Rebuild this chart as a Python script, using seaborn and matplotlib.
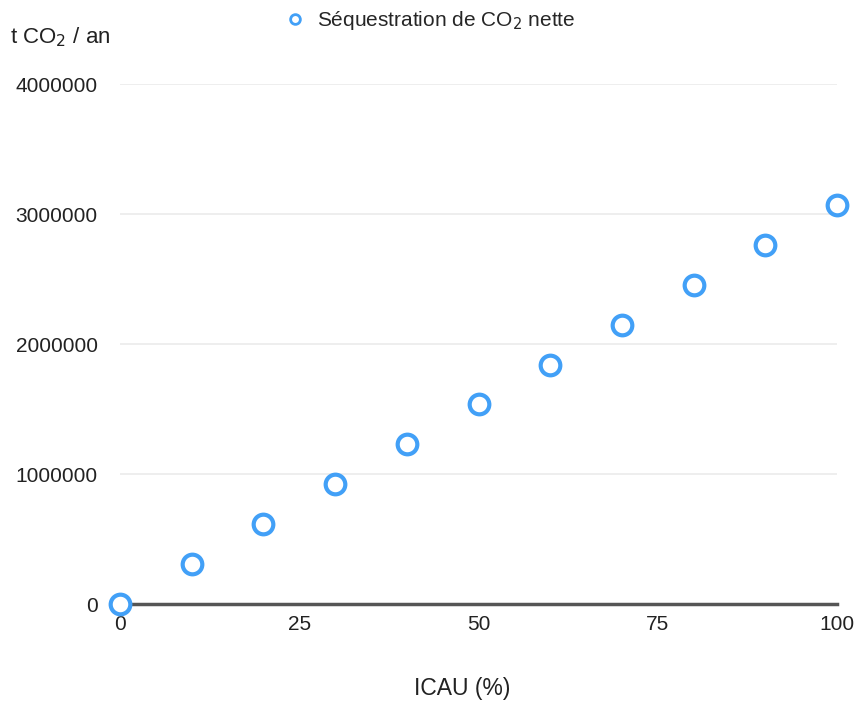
import matplotlib
matplotlib.use("Agg")
import matplotlib.pyplot as plt
import seaborn as sns
import pandas as pd

icau = [0, 10, 20, 30, 40, 50, 60, 70, 80, 90, 100]
sequestration = [0, 307000, 615000, 923000, 1230000, 1535000, 1840000, 2146000, 2453000, 2761000, 3069000]
series_label = "Séquestration de CO$_2$ nette"
x_ticks = [0, 25, 50, 75, 100]
y_ticks = [0, 1000000, 2000000, 3000000, 4000000]

sns.set_theme(style="white")
plt.rcParams['font.family'] = ['Liberation Sans', 'DejaVu Sans']

df = pd.DataFrame({"ICAU": icau, "seq": sequestration})

fig = plt.figure(figsize=(8.57, 7.28), dpi=100)
ax = fig.add_axes([120/857, 1-604/728, (837-120)/857, (604-84)/728])

blue = "#42a0f7"
sns.scatterplot(data=df, x="ICAU", y="seq", ax=ax, marker="o", s=200,
                facecolor="white", edgecolor=blue, linewidth=3,
                label=series_label, clip_on=False, zorder=5, legend=False)

ax.set_xlim(0, 100)
ax.set_ylim(0, 4000000)
ax.set_xticks(x_ticks)
ax.set_yticks(y_ticks)
ax.set_xticklabels([str(v) for v in x_ticks])
ax.set_yticklabels([str(v) for v in y_ticks])
ax.tick_params(axis='both', length=0, labelsize=15, colors="#222222")
ax.tick_params(axis='x', pad=8)
ax.tick_params(axis='y', pad=16)
ax.grid(axis='y', color="#ebebeb", linewidth=1.2)
ax.grid(axis='x', visible=False)
for s in ["left", "right", "top"]:
    ax.spines[s].set_visible(False)
ax.spines["bottom"].set_color("#555555")
ax.spines["bottom"].set_linewidth(2.5)
ax.spines["bottom"].set_zorder(4)
ax.set_xlabel("")
ax.set_ylabel("")

fig.text(462/857, 1-688/728, "ICAU (%)", ha="center", va="center", fontsize=16.5, color="#222222")
fig.text(10/857, 1-37/728, "t CO$_2$ / an", ha="left", va="center", fontsize=16, color="#222222")

from matplotlib.lines import Line2D
h = Line2D([], [], marker="o", linestyle="none", markersize=7, markerfacecolor="white",
           markeredgecolor=blue, markeredgewidth=2)
fig.legend([h], [series_label], loc="center", bbox_to_anchor=(430/857, 1-21/728),
           frameon=False, fontsize=15, handletextpad=0.6, handlelength=1.0)

fig.savefig("out.png", dpi=100)
